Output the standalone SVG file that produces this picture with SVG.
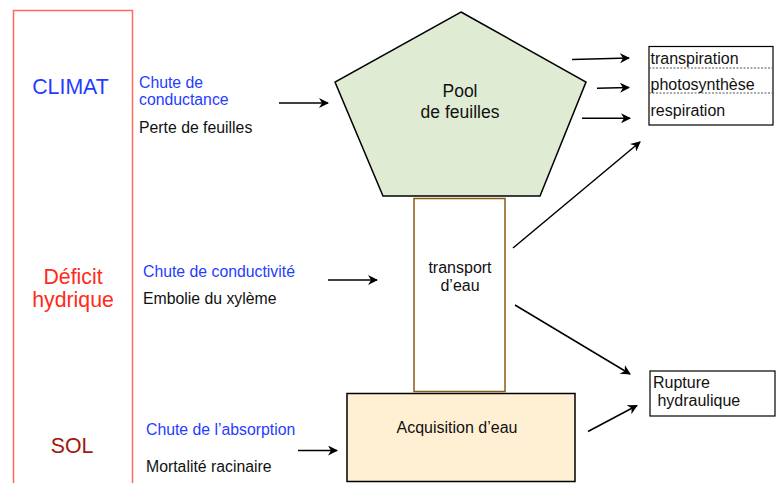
<svg xmlns="http://www.w3.org/2000/svg" width="776" height="483" viewBox="0 0 776 483">
<defs>
<marker id="ah" viewBox="0 0 10 10" refX="9" refY="5" markerWidth="10" markerHeight="10" markerUnits="userSpaceOnUse" orient="auto">
<path d="M0,0 L10,5 L0,10 L3,5 z" fill="#000"/>
</marker>
<style>
text{font-family:"Liberation Sans",Arial,sans-serif;}
.lbl{font-size:15.8px;}
.blue{fill:#1f3dff;}
.blk{fill:#111;}
.node{font-size:16px;fill:#111;text-anchor:middle;}
.big{font-size:21.3px;text-anchor:middle;}
.conn line{stroke:#000;stroke-width:1.5;marker-end:url(#ah);}
.box{fill:#fff;stroke:#000;stroke-width:1.2;}
.sep{stroke:#555;stroke-width:1;stroke-dasharray:2,1.5;}
.bt{font-size:16px;fill:#111;}
</style>
</defs>
<rect width="776" height="483" fill="#fff"/>
<g id="category-column">
<rect x="13.5" y="10.5" width="119" height="480" fill="none" stroke="#ff6a5c" stroke-width="1.5"/>
<text x="70.5" y="94" class="big" fill="#1f3dff">CLIMAT</text>
<text x="73" y="284" class="big" fill="#ff2a1a">Déficit</text>
<text x="73" y="306.5" class="big" fill="#ff2a1a">hydrique</text>
<text x="72" y="453" class="big" fill="#a0180c">SOL</text>
</g>
<g id="causes">
<text x="139" y="87.5" class="lbl blue">Chute de</text>
<text x="139" y="105" class="lbl blue">conductance</text>
<text x="139" y="132.5" class="lbl blk">Perte de feuilles</text>
<text x="143" y="276.5" class="lbl blue">Chute de conductivité</text>
<text x="143" y="304" class="lbl blk">Embolie du xylème</text>
<text x="146" y="435" class="lbl blue">Chute de l’absorption</text>
<text x="146" y="471.5" class="lbl blk">Mortalité racinaire</text>
</g>
<g id="pool">
<polygon points="461,12 586,82 540,196 383,196 335,82" fill="#e0ebd4" stroke="#000" stroke-width="1.5"/>
<text x="460" y="96.5" class="node" style="font-size:17.5px">Pool</text>
<text x="460" y="118" class="node" style="font-size:17.5px">de feuilles</text>
</g>
<g id="transport">
<rect x="414" y="198.5" width="91" height="193" fill="#fff" stroke="#8a5a14" stroke-width="1.5"/>
<text x="460" y="273" class="node">transport</text>
<text x="460" y="291" class="node">d’eau</text>
</g>
<g id="acquisition">
<rect x="347" y="393.5" width="228" height="88" fill="#fff0d4" stroke="#000" stroke-width="1.5"/>
<text x="457" y="432.5" class="node">Acquisition d’eau</text>
</g>
<g id="processes">
<rect x="649" y="46.5" width="124" height="78.5" class="box"/>
<line x1="649" y1="68" x2="773" y2="68" class="sep"/>
<line x1="649" y1="93" x2="773" y2="93" class="sep"/>
<text x="650.5" y="64" class="bt">transpiration</text>
<text x="650.5" y="89.5" class="bt">photosynthèse</text>
<text x="650.5" y="116" class="bt">respiration</text>
</g>
<g id="rupture">
<rect x="650" y="371" width="125" height="45" class="box"/>
<text x="653" y="387.5" class="bt">Rupture</text>
<text x="653" y="405.5" class="bt" xml:space="preserve" style="white-space:pre"> hydraulique</text>
</g>
<g id="connectors" class="conn">
<line x1="279" y1="103" x2="328" y2="103"/>
<line x1="328" y1="280" x2="377" y2="280"/>
<line x1="298" y1="450.5" x2="337" y2="450.5"/>
<line x1="572" y1="59.5" x2="629" y2="58"/>
<line x1="597" y1="88.3" x2="629" y2="87.5"/>
<line x1="582" y1="118.3" x2="630" y2="118.3"/>
<line x1="513" y1="248" x2="640" y2="142"/>
<line x1="515" y1="305" x2="630" y2="374"/>
<line x1="588" y1="431.5" x2="637" y2="405.5"/>
</g>
</svg>
